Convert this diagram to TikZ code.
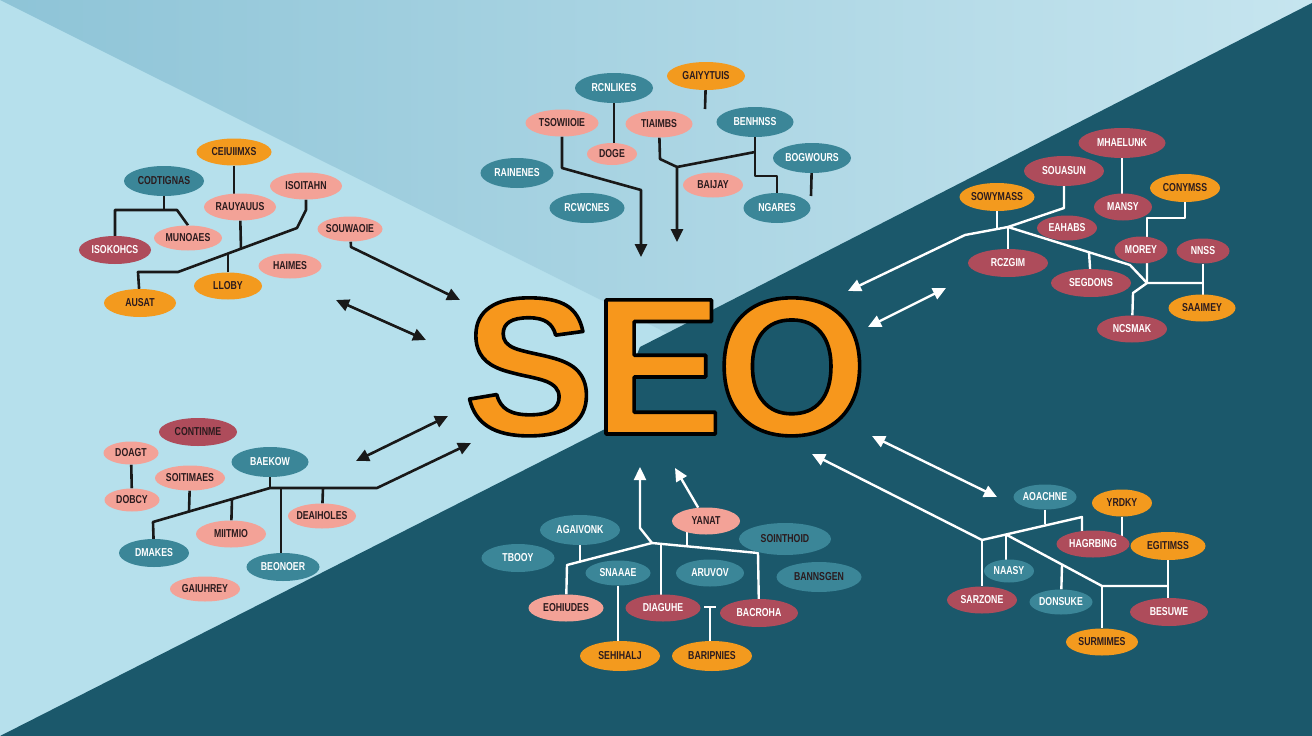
\documentclass[tikz,border=0pt]{standalone}
\usepackage{fontspec}
\setmainfont{Liberation Sans}
\newfontfamily\labelfont{Liberation Sans}[FakeStretch=0.76]
\usetikzlibrary{shapes.geometric,arrows.meta}
\definecolor{bgleft}{HTML}{B6E0EC}
\definecolor{bgtopL}{HTML}{8EC4D7}
\definecolor{bgtopR}{HTML}{C6E5EF}
\definecolor{bgdark}{HTML}{1B586B}
\definecolor{cteal}{HTML}{3B8698}
\definecolor{csalmon}{HTML}{F3A297}
\definecolor{corange}{HTML}{F39A1E}
\definecolor{crose}{HTML}{AE4C5B}
\definecolor{cdark}{HTML}{2B1B1E}
\definecolor{seoorange}{HTML}{F7971C}
\pgfdeclarelayer{back}
\pgfdeclarelayer{wires}
\pgfsetlayers{back,wires,main}
\tikzset{
 lab/.style={ellipse, inner xsep=-4pt, inner ysep=0pt, font=\labelfont\bfseries\fontsize{11.5}{11.5}\selectfont},
 sz/.style 2 args={minimum width=#1, minimum height=#2},
 te/.style={lab, fill=cteal, text=white},
 tk/.style={lab, fill=cteal, text=cdark},
 sa/.style={lab, fill=csalmon, text=cdark},
 og/.style={lab, fill=corange, text=cdark},
 ro/.style={lab, fill=crose, text=white},
 rk/.style={lab, fill=crose, text=cdark},
 bw/.style={draw=black!90, line width=2.6pt, line join=round},
 ww/.style={draw=white, line width=2.4pt, line join=round},
 seo/.style={inner sep=0pt, anchor=base, text=seoorange, font=\bfseries\fontsize{195}{195}\selectfont},
 myt/.tip={Stealth[length=13pt,width=12pt,inset=0pt]},
}
\newcommand\outlined[1]{\special{pdf:literal direct 0 0 0 RG 3.6 w 1 j 2 Tr}#1\special{pdf:literal direct 0 Tr}}
\begin{document}
\begin{tikzpicture}[x=1pt,y=-1pt]
\useasboundingbox (0,0) rectangle (1312,736);
\begin{pgfonlayer}{back}
\fill[bgleft] (0,0) rectangle (1312,736);
\shade[left color=bgtopL, right color=bgtopR] (0,0) -- (1312,0) -- (1312,3) -- (667,333) -- cycle;
\fill[bgdark] (0,736) -- (607,428) -- (640,347) -- (1312,3) -- (1312,736) -- cycle;
\end{pgfonlayer}

% SEO
\node[seo] (S) at (529,434) {\outlined{S}};
\node[seo] (E) at (658,434) {\outlined{E}};
\node[seo] (O) at (792,434) {\outlined{O}};

% top-left cluster
\node[og,sz={75}{27}] (tl1) at (234,152) {CEIUIIMXS};
\node[tk,sz={80}{30}] (tl2) at (164,181) {CODTIGNAS};
\node[sa,sz={72}{27}] (tl3) at (306,186) {ISOITAHN};
\node[sa,sz={72}{27}] (tl4) at (240,207) {RAUYAUUS};
\node[sa,sz={65}{25}] (tl5) at (350,229) {SOUWAOIE};
\node[sa,sz={68}{25}] (tl6) at (188,238) {MUNOAES};
\node[ro,sz={72}{28}] (tl7) at (115,250) {ISOKOHCS};
\node[sa,sz={63}{25}] (tl8) at (290,266) {HAIMES};
\node[og,sz={68}{27}] (tl9) at (228,286) {LLOBY};
\node[og,sz={72}{28}] (tl10) at (140,303) {AUSAT};

% top-center cluster
\node[og,sz={78}{28}] (tc1) at (706,76) {GAIYYTUIS};
\node[te,sz={78}{30}] (tc2) at (614,88) {RCNLIKES};
\node[sa,sz={73}{27}] (tc3) at (562,123) {TSOWIIOIE};
\node[sa,sz={67}{27}] (tc4) at (659,124) {TIAIMBS};
\node[te,sz={77}{30}] (tc5) at (755,122) {BENHNSS};
\node[sa,sz={50}{22}] (tc6) at (612,154) {DOGE};
\node[te,sz={78}{30}] (tc7) at (812,158) {BOGWOURS};
\node[te,sz={73}{30}] (tc8) at (517,173) {RAINENES};
\node[sa,sz={60}{25}] (tc9) at (713,185) {BAIJAY};
\node[te,sz={75}{30}] (tc10) at (587,208) {RCWCNES};
\node[te,sz={67}{30}] (tc11) at (777,208) {NGARES};

% top-right cluster
\node[ro,sz={87}{30}] (tr1) at (1122,143) {MHAELUNK};
\node[ro,sz={80}{30}] (tr2) at (1064,171) {SOUASUN};
\node[og,sz={75}{28}] (tr3) at (997,197) {SOWYMASS};
\node[og,sz={70}{28}] (tr4) at (1185,188) {CONYMSS};
\node[ro,sz={58}{27}] (tr5) at (1123,207) {MANSY};
\node[ro,sz={60}{25}] (tr6) at (1067,228) {EAHABS};
\node[ro,sz={53}{27}] (tr7) at (1141,250) {MOREY};
\node[ro,sz={53}{25}] (tr8) at (1203,251) {NNSS};
\node[ro,sz={80}{28}] (tr9) at (1008,263) {RCZGIM};
\node[ro,sz={80}{28}] (tr10) at (1091,283) {SEGDONS};
\node[og,sz={67}{27}] (tr11) at (1202,308) {SAAIMEY};
\node[ro,sz={70}{27}] (tr12) at (1132,329) {NCSMAK};

% bottom-right cluster
\node[te,sz={63}{25}] (br1) at (1045,497) {AOACHNE};
\node[og,sz={60}{27}] (br2) at (1122,503) {YRDKY};
\node[ro,sz={73}{27}] (br3) at (1093,544) {HAGRBING};
\node[og,sz={75}{28}] (br4) at (1168,546) {EGITIMSS};
\node[te,sz={50}{23}] (br5) at (1009,571) {NAASY};
\node[ro,sz={70}{27}] (br6) at (982,600) {SARZONE};
\node[te,sz={63}{25}] (br7) at (1061,602) {DONSUKE};
\node[ro,sz={78}{28}] (br8) at (1169,612) {BESUWE};
\node[og,sz={72}{27}] (br9) at (1102,642) {SURMIMES};

% bottom-center cluster
\node[sa,sz={68}{27}] (bc1) at (706,521) {YANAT};
\node[tk,sz={92}{32}] (bc2) at (785,539) {SOINTHOID};
\node[te,sz={80}{30}] (bc3) at (580,530) {AGAIVONK};
\node[te,sz={73}{28}] (bc4) at (518,558) {TBOOY};
\node[te,sz={65}{25}] (bc5) at (618,573) {SNAAAE};
\node[te,sz={68}{27}] (bc6) at (710,573) {ARUVOV};
\node[tk,sz={85}{30}] (bc7) at (819,577) {BANNSGEN};
\node[sa,sz={75}{27}] (bc8) at (566,608) {EOHIUDES};
\node[ro,sz={75}{27}] (bc9) at (663,608) {DIAGUHE};
\node[ro,sz={78}{28}] (bc10) at (759,613) {BACROHA};
\node[og,sz={80}{30}] (bc11) at (620,656) {SEHIHALJ};
\node[og,sz={80}{30}] (bc12) at (712,656) {BARIPNIES};

% bottom-left cluster
\node[rk,sz={78}{28}] (bl1) at (198,432) {CONTINME};
\node[sa,sz={55}{23}] (bl2) at (131,453) {DOAGT};
\node[te,sz={77}{30}] (bl3) at (270,462) {BAEKOW};
\node[sa,sz={70}{25}] (bl4) at (190,478) {SOITIMAES};
\node[sa,sz={55}{23}] (bl5) at (132,500) {DOBCY};
\node[sa,sz={68}{25}] (bl6) at (322,516) {DEAIHOLES};
\node[sa,sz={70}{27}] (bl7) at (231,534) {MIITMIO};
\node[te,sz={70}{28}] (bl8) at (154,553) {DMAKES};
\node[te,sz={73}{28}] (bl9) at (283,567) {BEONOER};
\node[sa,sz={70}{25}] (bl10) at (205,589) {GAIUHREY};

\begin{pgfonlayer}{wires}
% top-left
\coordinate (ja) at (177,210);
\coordinate (jb) at (297,228);
\coordinate (jc) at (178,272);
\coordinate (ta1) at (460,300);
\coordinate (da1) at (336,300);
\coordinate (da2) at (426,340);
\draw[bw] (tl1) -- (tl1 |- tl4);
\draw[bw] (tl2) -- (tl2 |- ja);
\draw[bw] (tl7) |- (ja) -- (tl6.north);
\draw[bw] (tl3) -- (306,210) -- (jb) -- (jc) -- (138,272) -- (tl10);
\draw[bw] (tl4) -- (241,249);
\draw[bw] (tl9) -- (228,254);
\draw[bw,-myt] (tl5) -- (351,247) -- (ta1);
\draw[bw,myt-myt] (da1) -- (da2);
% top-center
\coordinate (fc1) at (705,109);
\coordinate (fc2) at (811,196);
\coordinate (ka) at (677,167);
\coordinate (tb1) at (641,257);
\coordinate (tb2) at (677,242);
\draw[bw] (tc1) -- (fc1);
\draw[bw] (tc7) -- (fc2);
\draw[bw] (tc2) -- (tc2 |- tc6);
\draw[bw,-myt] (tc3) -- (562,168) -- (641,190) -- (tb1);
\draw[bw,-myt] (tc4) -- (660,159) -- (ka) -- (tb2);
\draw[bw] (ka) -- (755,152);
\draw[bw] (tc5) -- (755,176) -- (777,176) -- (tc11);
% top-right
\coordinate (ra) at (1064,208);
\coordinate (rb) at (1008,227);
\coordinate (rc) at (1147,283);
\coordinate (tr0) at (848,291);
\coordinate (dr1) at (868,327);
\coordinate (dr2) at (946,288);
\draw[ww] (tr1) -- (tr1 |- tr5);
\draw[ww] (tr2) -- (ra) -- (rb);
\draw[ww] (tr3) -- (997,229);
\draw[ww,-myt] (rb) -- (965,235) -- (tr0);
\draw[ww] (rb) -- (tr9);
\draw[ww] (rb) -- (1130,265) -- (rc) -- (1203,283);
\draw[ww] (tr10) -- (1089,252);
\draw[ww] (tr8) -- (tr8 |- tr11);
\draw[ww] (rc |- tr7) -- (rc) -- (1133,293) -- (tr12);
\draw[ww] (tr4) -- (1185,218) -- (1147,218) -- (rc |- tr7);
\draw[ww,myt-myt] (dr1) -- (dr2);
% bottom-right
\coordinate (qa) at (982,540);
\coordinate (qb) at (1082,517);
\coordinate (qc) at (1006,534.5);
\coordinate (qd) at (1102,586);
\coordinate (qe) at (1168,586);
\coordinate (tq) at (812,454);
\coordinate (dq1) at (872,436);
\coordinate (dq2) at (997,497);
\draw[ww,-myt] (qa) -- (tq);
\draw[ww] (qa) -- (br6);
\draw[ww] (qa) -- (qb) -- (qb |- br3);
\draw[ww] (br1) -- (1045,524);
\draw[ww] (br2) -- (br2 |- br3);
\draw[ww] (qc) -- (qc |- br5);
\draw[ww] (qc) -- (qd) -- (qe);
\draw[ww] (br4) -- (br4 |- br8);
\draw[ww] (qd) -- (br9);
\draw[ww] (br7) -- (1062,565);
\draw[ww,myt-myt] (dq1) -- (dq2);
% bottom-center
\coordinate (ca) at (652,543);
\coordinate (cb) at (758,553);
\coordinate (tc0) at (640,467);
\coordinate (tcy) at (675,468);
\coordinate (cz) at (710,607);
\draw[ww,-myt] (ca) -- (640,528) -- (tc0);
\draw[ww,-myt] (bc1) -- (tcy);
\draw[ww] (ca) -- (567,565) -- (bc8);
\draw[ww] (bc3) -- (580,562);
\draw[ww] (ca) -- (cb) -- (bc10);
\draw[ww] (687,521) -- (687,546.5);
\draw[ww] (661,544) -- (661,608);
\draw[ww] (bc5) -- (bc5 |- bc11);
\draw[ww] (cz) -- (cz |- bc12);
\draw[ww] (704,607) -- (716,607);
% bottom-left
\coordinate (da) at (270,488);
\coordinate (db) at (153,522);
\coordinate (dc) at (377,488);
\coordinate (tl0) at (471,443);
\coordinate (dl1) at (356,461);
\coordinate (dl2) at (448,416);
\draw[bw] (bl2) -- (bl5);
\draw[bw] (bl3) -- (da);
\draw[bw,-myt] (bl8) -- (db) -- (da) -- (dc) -- (tl0);
\draw[bw] (bl4) -- (189,511.5);
\draw[bw] (bl7) -- (232,499);
\draw[bw] (281,488) -- (281,567);
\draw[bw] (323,488) -- (bl6);
\draw[bw,myt-myt] (dl1) -- (dl2);
\end{pgfonlayer}
\end{tikzpicture}
\end{document}
